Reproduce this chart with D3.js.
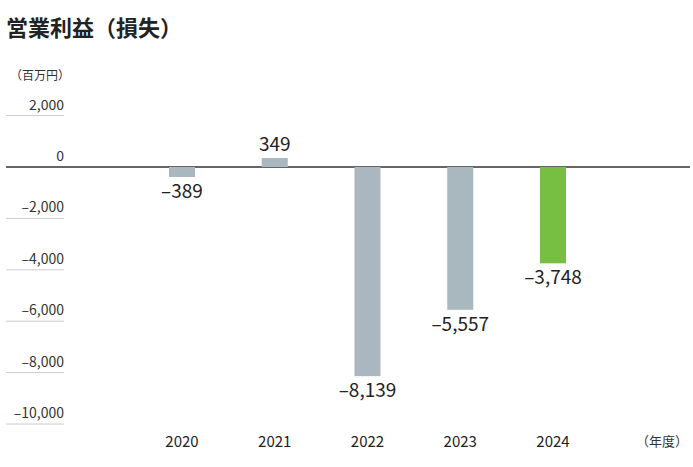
<!DOCTYPE html>
<html><head><meta charset="utf-8">
<script src="https://cdn.jsdelivr.net/npm/d3@7"></script>
<style>body{margin:0;background:#fff;font-family:"Noto Sans CJK JP","Noto Sans",sans-serif;}</style>
</head><body><svg id="c" width="693" height="467"></svg>
<script>
var years = ["2020", "2021", "2022", "2023", "2024"];
var values = [-389, 349, -8139, -5557, -3748];
var labels = ["-389", "349", "-8,139", "-5,557", "-3,748"];
var ticks = [2000, 0, -2000, -4000, -6000, -8000, -10000];

var svg = d3.select("#c");
var y = d3.scaleLinear().domain([-10000, 0]).range([424, 167]);
var x = d3.scalePoint().domain(years).range([182, 553]);
var bw = 26;

svg.append("text").attr("x", 6).attr("y", 36).attr("font-size", 22).attr("font-weight", "bold")
    .attr("fill", "#222").text("営業利益（損失）");
svg.append("text").attr("x", 10).attr("y", 80).attr("font-size", 12).attr("fill", "#333").text("（百万円）");
svg.append("text").attr("x", 688).attr("y", 446).attr("font-size", 13).attr("text-anchor", "end")
    .attr("fill", "#333").text("（年度）");

ticks.forEach(function (t) {
    svg.append("line").attr("x1", 6).attr("x2", t === 0 ? 690 : 64)
        .attr("y1", y(t)).attr("y2", y(t))
        .attr("stroke", t === 0 ? "#333" : "#ccc").attr("stroke-width", t === 0 ? 1.5 : 1);
    svg.append("text").attr("x", 64).attr("y", y(t) - 6).attr("text-anchor", "end")
        .attr("font-size", 14).attr("fill", "#333").text(t === 0 ? "0" : d3.format(",")(t).replace("−", "–"));
});

svg.selectAll("rect.bar").data(values).enter().append("rect")
    .attr("x", function (d, i) { return x(years[i]) - bw / 2; })
    .attr("y", function (d) { return y(Math.max(0, d)); })
    .attr("width", bw)
    .attr("height", function (d) { return Math.abs(y(d) - y(0)); })
    .attr("fill", function (d, i) { return i === 4 ? "#76bf43" : "#a9b7bf"; });

svg.selectAll("text.val").data(values).enter().append("text")
    .attr("x", function (d, i) { return x(years[i]); })
    .attr("y", function (d) { return d >= 0 ? y(d) - 7 : y(d) + 21; })
    .attr("text-anchor", "middle").attr("font-size", 19).attr("fill", "#222")
    .text(function (d, i) { return labels[i].replace("-", "–"); });

years.forEach(function (yr) {
    svg.append("text").attr("x", x(yr)).attr("y", 447).attr("text-anchor", "middle")
        .attr("font-size", 15).attr("fill", "#222").text(yr);
});
</script></body></html>
